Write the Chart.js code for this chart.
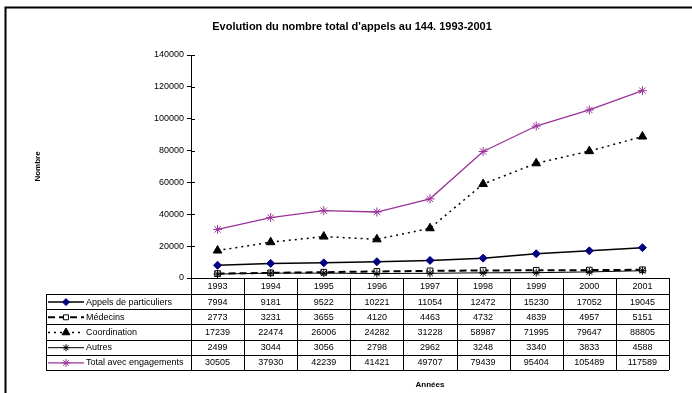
<!DOCTYPE html>
<html>
<head>
<meta charset="utf-8">
<script src="https://cdn.jsdelivr.net/npm/chart.js@4/dist/chart.umd.min.js"></script>
<style>
  body { margin: 0; background: #fff; }
  canvas { display: block; }
</style>
</head>
<body>
<canvas id="graficoAppels" width="692" height="393"></canvas>
<script>
const annees = ["1993", "1994", "1995", "1996", "1997", "1998", "1999", "2000", "2001"];
const appelsParticuliers = [7994, 9181, 9522, 10221, 11054, 12472, 15230, 17052, 19045];
const medecins = [2773, 3231, 3655, 4120, 4463, 4732, 4839, 4957, 5151];
const coordination = [17239, 22474, 26006, 24282, 31228, 58987, 71995, 79647, 88805];
const autres = [2499, 3044, 3056, 2798, 2962, 3248, 3340, 3833, 4588];
const totalEngagements = [30505, 37930, 42239, 41421, 49707, 79439, 95404, 105489, 117589];

const titre = "Evolution du nombre total d'appels au 144. 1993-2001";
const titreY = "Nombre";
const titreX = "Années";

const police = "'Liberation Sans', Arial, sans-serif";
const violet = "#993399";

const series = [
  { label: "Appels de particuliers", data: appelsParticuliers, borderColor: "#000", borderWidth: 1.5, borderDash: [],
    pointStyle: "rectRot", pointRadius: 4, pointBackgroundColor: "#000080", pointBorderColor: "#000080" },
  { label: "Médecins", data: medecins, borderColor: "#000", borderWidth: 2, borderDash: [7, 4],
    pointStyle: "rect", pointRadius: 4, pointBackgroundColor: "#fff", pointBorderColor: "#000" },
  { label: "Coordination", data: coordination, borderColor: "#000", borderWidth: 1.5, borderDash: [2, 4],
    pointStyle: "triangle", pointRadius: 5, pointBackgroundColor: "#000", pointBorderColor: "#000" },
  { label: "Autres", data: autres, borderColor: "#000", borderWidth: 1, borderDash: [],
    pointStyle: "star", pointRadius: 4, pointBackgroundColor: "#000", pointBorderColor: "#000" },
  { label: "Total avec engagements", data: totalEngagements, borderColor: violet, borderWidth: 1.3, borderDash: [],
    pointStyle: "star", pointRadius: 4.5, pointBackgroundColor: violet, pointBorderColor: violet },
];

const tableauLeft = 46;
const enteteHaut = 16;
const ligneHaut = 15.2;

// frame, titles, cross ticks and the data table under the plot
const decor = {
  id: "decor",
  afterDraw(chart) {
    const ctx = chart.ctx;
    const area = chart.chartArea;
    const x = chart.scales.x;
    const y = chart.scales.y;
    ctx.save();

    // outer frame (left and top edges)
    ctx.strokeStyle = "#000";
    ctx.lineWidth = 2;
    ctx.beginPath();
    ctx.moveTo(5.5, 393);
    ctx.lineTo(5.5, 7.5);
    ctx.lineTo(692, 7.5);
    ctx.stroke();

    ctx.fillStyle = "#000";
    ctx.font = "bold 11px " + police;
    ctx.textAlign = "center";
    ctx.textBaseline = "middle";
    ctx.fillText(titre, 352, 27);

    ctx.font = "bold 8px " + police;
    ctx.fillText(titreX, (area.left + area.right) / 2, 385);
    ctx.save();
    ctx.translate(38, (area.top + area.bottom) / 2);
    ctx.rotate(-Math.PI / 2);
    ctx.fillText(titreY, 0, 0);
    ctx.restore();

    // inner half of the crossing tick marks
    ctx.lineWidth = 1;
    ctx.beginPath();
    y.ticks.forEach(t => {
      const py = Math.round(y.getPixelForValue(t.value)) + 0.5;
      ctx.moveTo(area.left, py);
      ctx.lineTo(area.left + 4, py);
    });
    ctx.stroke();

    // table
    const largeur = (area.right - area.left) / annees.length;
    const haut = area.bottom;
    const bas = haut + enteteHaut + ligneHaut * series.length;

    ctx.strokeStyle = "#000";
    ctx.lineWidth = 1;
    ctx.beginPath();
    ctx.moveTo(area.left, haut + 0.5);
    ctx.lineTo(area.right, haut + 0.5);
    for (let i = 0; i <= series.length; i++) {
      const ly = Math.round(haut + enteteHaut + i * ligneHaut) + 0.5;
      ctx.moveTo(tableauLeft, ly);
      ctx.lineTo(area.right, ly);
    }
    ctx.moveTo(tableauLeft + 0.5, haut + enteteHaut);
    ctx.lineTo(tableauLeft + 0.5, bas);
    for (let i = 0; i <= annees.length; i++) {
      const lx = Math.round(area.left + i * largeur) + 0.5;
      ctx.moveTo(lx, haut);
      ctx.lineTo(lx, bas);
    }
    ctx.stroke();

    ctx.font = "9px " + police;
    ctx.textAlign = "center";
    annees.forEach((a, i) => {
      ctx.fillText(a, x.getPixelForValue(i), haut + enteteHaut / 2 + 1);
    });

    series.forEach((s, r) => {
      const cy = haut + enteteHaut + r * ligneHaut + ligneHaut / 2 + 0.5;
      s.data.forEach((v, i) => {
        ctx.textAlign = "center";
        ctx.fillText(String(v), x.getPixelForValue(i), cy);
      });

      // legend key
      ctx.save();
      ctx.strokeStyle = s.borderColor;
      ctx.lineWidth = s.borderWidth;
      ctx.setLineDash(s.borderDash);
      ctx.beginPath();
      ctx.moveTo(tableauLeft + 2, cy);
      ctx.lineTo(tableauLeft + 38, cy);
      ctx.stroke();
      ctx.setLineDash([]);
      ctx.fillStyle = s.pointBackgroundColor;
      ctx.strokeStyle = s.pointBorderColor;
      ctx.lineWidth = 1;
      Chart.helpers.drawPoint(ctx, { pointStyle: s.pointStyle, radius: s.pointRadius - 0.5, rotation: 0, borderWidth: 1 }, tableauLeft + 20, cy);
      ctx.restore();

      ctx.textAlign = "left";
      ctx.fillText(s.label, tableauLeft + 40, cy);
    });

    ctx.restore();
  }
};

new Chart(document.getElementById("graficoAppels"), {
  type: "line",
  data: {
    labels: annees,
    datasets: series.map(s => ({
      label: s.label,
      data: s.data,
      borderColor: s.borderColor,
      borderWidth: s.borderWidth,
      borderDash: s.borderDash,
      pointStyle: s.pointStyle,
      pointRadius: s.pointRadius,
      pointBorderWidth: 1,
      pointBackgroundColor: s.pointBackgroundColor,
      pointBorderColor: s.pointBorderColor,
      tension: 0,
      fill: false,
    })).reverse(),
  },
  options: {
    responsive: false,
    animation: false,
    layout: { padding: { left: 0, top: 55, right: 23, bottom: 115 } },
    plugins: {
      legend: { display: false },
      title: { display: false },
      tooltip: { enabled: false },
    },
    scales: {
      x: { display: false, offset: true },
      y: {
        min: 0,
        max: 140000,
        afterFit(scale) { scale.width = 191; },
        border: { display: true, color: "#000", width: 1 },
        grid: { drawOnChartArea: false, tickLength: 4, color: "#000" },
        ticks: {
          stepSize: 20000,
          padding: 3,
          color: "#000",
          font: { family: police, size: 9 },
          callback: v => String(v),
        },
      },
    },
  },
  plugins: [decor],
});
</script>
</body>
</html>
